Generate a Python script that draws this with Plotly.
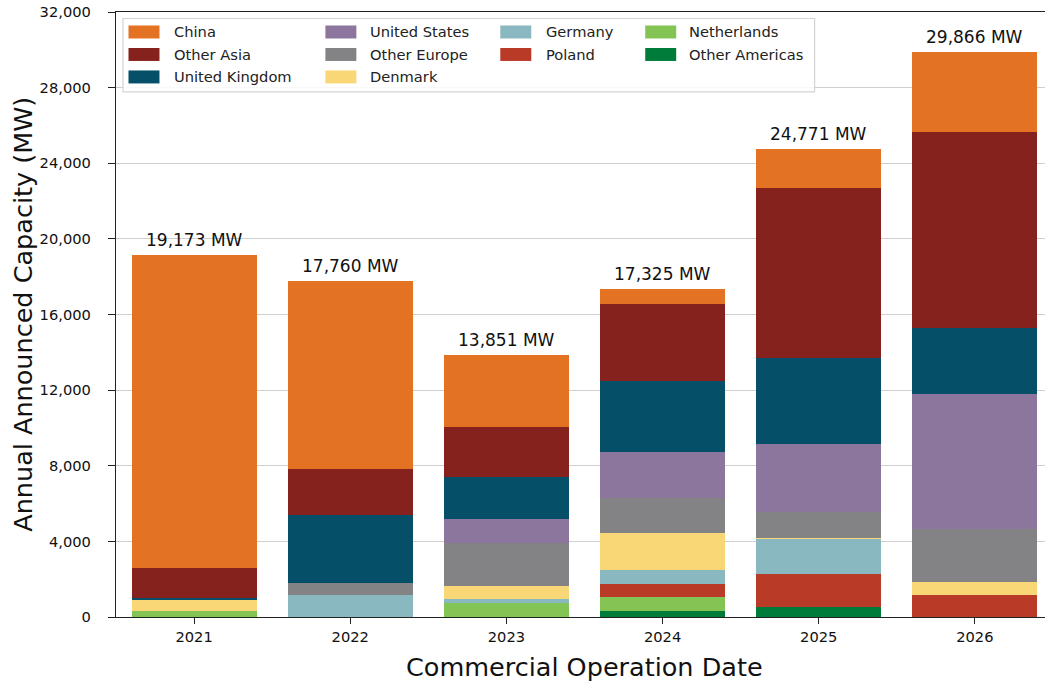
import plotly.graph_objects as go

years = ["2021", "2022", "2023", "2024", "2025", "2026"]
totals = [19173, 17760, 13851, 17325, 24771, 29866]

# legend order (top of stack first)
series_names = ["China", "Other Asia", "United Kingdom", "United States", "Other Europe",
                "Denmark", "Germany", "Poland", "Netherlands", "Other Americas"]
series_colors = ["#E37222", "#85221D", "#055068", "#8C769E", "#838386",
                 "#F9D776", "#89B8C0", "#B93A26", "#84C454", "#007C3A"]

china = [16563, 9919, 3790, 765, 2081, 4217]
other_asia = [1585, 2430, 2642, 4066, 8967, 10357]
united_kingdom = [88, 3593, 2220, 3754, 4561, 3487]
united_states = [0, 0, 1303, 2431, 3593, 7150]
other_europe = [0, 634, 2237, 1849, 1373, 2784]
denmark = [599, 0, 687, 1955, 53, 687]
germany = [0, 1184, 211, 740, 1850, 0]
poland = [0, 0, 0, 687, 1760, 1184]
netherlands = [338, 0, 761, 740, 0, 0]
other_americas = [0, 0, 0, 338, 533, 0]

series_values = [china, other_asia, united_kingdom, united_states, other_europe,
                 denmark, germany, poland, netherlands, other_americas]

FONT = "DejaVu Sans"
W, H = 1045, 688
# plot-area edges in page pixels
L, R_EDGE, T, B_EDGE = 115.5, 1045, 12, 617.5
PW, PH = R_EDGE - L, B_EDGE - T

def px_x(x):
    return (x - L) / PW

def px_y(y):
    return (B_EDGE - y) / PH

fig = go.Figure()
# stacked bottom-up: reverse of legend order
for name, color, vals in reversed(list(zip(series_names, series_colors, series_values))):
    fig.add_trace(go.Bar(
        x=years, y=vals, name=name, marker=dict(color=color, line=dict(width=0)),
        width=0.8, showlegend=False,
    ))

# total labels
for i, tot in enumerate(totals):
    fig.add_annotation(x=i, y=tot, text=f"{tot:,} MW", showarrow=False,
                       yanchor="middle", yshift=15,
                       font=dict(family=FONT, size=17, color="#111111"))

# manual legend (column-first: 3, 3, 2, 2 entries)
shapes = []
shapes.append(dict(type="rect", xref="paper", yref="paper",
                   x0=px_x(122.5), x1=px_x(814.5), y0=px_y(92), y1=px_y(18.5),
                   line=dict(color="#d4d4d4", width=1.2), fillcolor="rgba(255,255,255,0.85)",
                   layer="above"))
col_sizes = [3, 3, 2, 2]
col_sw = [128, 325, 500, 645]
col_tx = [172, 368, 544, 687]
row_y = [32, 54.5, 77]
idx = 0
for c, n in enumerate(col_sizes):
    for r in range(n):
        name, color = series_names[idx], series_colors[idx]
        idx += 1
        yc = row_y[r]
        shapes.append(dict(type="rect", xref="paper", yref="paper",
                           x0=px_x(col_sw[c]), x1=px_x(col_sw[c] + 31),
                           y0=px_y(yc + 6.5), y1=px_y(yc - 6.5),
                           line=dict(width=0), fillcolor=color, layer="above"))
        fig.add_annotation(xref="paper", yref="paper", x=px_x(col_tx[c]), y=px_y(yc),
                           text=name, showarrow=False, xanchor="left", yanchor="middle",
                           font=dict(family=FONT, size=14.67, color="#222222"))

# axis titles
fig.add_annotation(xref="paper", yref="paper", x=px_x(584.5), y=px_y(668),
                   text="Commercial Operation Date", showarrow=False,
                   xanchor="center", yanchor="middle",
                   font=dict(family=FONT, size=25.5, color="#111111"))
fig.add_annotation(xref="paper", yref="paper", x=px_x(23), y=px_y(314.5),
                   text="Annual Announced Capacity (MW)", showarrow=False, textangle=-90,
                   xanchor="center", yanchor="middle",
                   font=dict(family=FONT, size=25.5, color="#111111"))

fig.update_layout(
    width=W, height=H,
    margin=dict(l=L, r=W - R_EDGE, t=T, b=H - B_EDGE, pad=0, autoexpand=False),
    barmode="stack", bargap=0.2,
    plot_bgcolor="white", paper_bgcolor="white",
    font=dict(family=FONT, size=14.67, color="#111111"),
    shapes=shapes,
)
fig.update_xaxes(
    range=[-0.5, 5.449], type="category", automargin=False,
    showline=True, linecolor="#222222", linewidth=1.3, mirror=True,
    ticks="outside", ticklen=6, tickwidth=1.3, tickcolor="#222222",
    showgrid=False, tickfont=dict(family=FONT, size=14.67, color="#111111"),
)
fig.update_yaxes(
    range=[0, 32000], tickvals=list(range(0, 32001, 4000)), tickformat=",d",
    automargin=False, ticklabeloverflow="allow",
    showline=True, linecolor="#222222", linewidth=1.3,
    ticks="outside", ticklen=7, tickwidth=1.3, tickcolor="#222222",
    ticklabelstandoff=14,
    showgrid=True, gridcolor="#d0d0d0", gridwidth=1.3, zeroline=False,
    tickfont=dict(family=FONT, size=14.67, color="#111111"),
)

# remove the browser's default body margin so the figure sits at the window's corner
fig.write_html("out.html", config={"displayModeBar": False},
               post_script="document.body.style.margin='0';")
